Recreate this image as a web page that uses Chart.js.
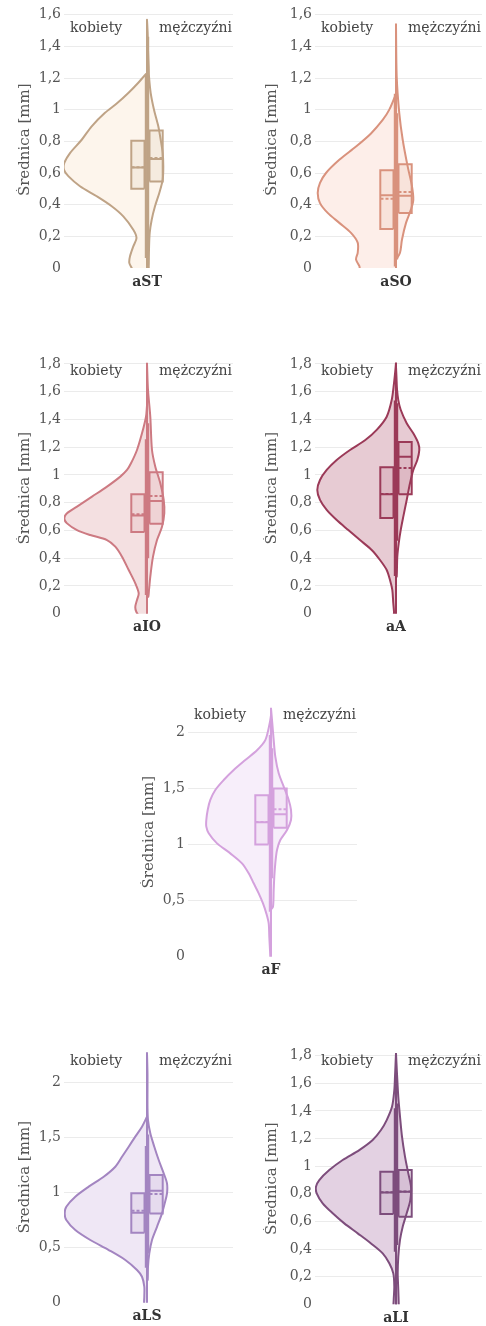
<!DOCTYPE html>
<html>
<head>
<meta charset="utf-8">
<script src="https://cdn.jsdelivr.net/npm/chart.js@4.4.1/dist/chart.umd.min.js"></script>
<style>
  html, body { margin: 0; padding: 0; background: #fff; }
  #page { position: relative; width: 486px; height: 1326px; overflow: hidden; }
  #page canvas { position: absolute; }
</style>
</head>
<body>
<div id="page"></div>
<script>
// categories and group names
const categories = ['aST', 'aSO', 'aIO', 'aA', 'aF', 'aLS', 'aLI'];
const groups = ['kobiety', 'mężczyźni'];
const axisTitle = 'Średnica [mm]';

// y axis range and tick step per category
const yMaxes = [1.62, 1.62, 1.81, 1.81, 2.22, 2.28, 1.82];
const ySteps = [0.2, 0.2, 0.2, 0.2, 0.5, 0.5, 0.2];

// density profiles: [diameter, half width]
const aST_k = [[-0.02, 0.14], [0, 0.153], [0.032, 0.177], [0.074, 0.17], [0.137, 0.137], [0.19, 0.105], [0.242, 0.137], [0.326, 0.237], [0.39, 0.353], [0.453, 0.503], [0.516, 0.67], [0.58, 0.787], [0.62, 0.83], [0.663, 0.827], [0.726, 0.77], [0.81, 0.653], [0.895, 0.553], [0.98, 0.42], [1.04, 0.3], [1.105, 0.187], [1.17, 0.087], [1.225, 0.01]];
const aST_m = [[-0.02, 0.017], [0, 0.017], [0.116, 0.02], [0.221, 0.027], [0.305, 0.047], [0.39, 0.08], [0.474, 0.123], [0.558, 0.157], [0.642, 0.163], [0.726, 0.157], [0.81, 0.137], [0.895, 0.113], [1.0, 0.07], [1.105, 0.037], [1.21, 0.02], [1.27, 0.017], [1.38, 0.01], [1.48, 0.007], [1.568, 0]];
const aSO_k = [[-0.02, 0.35], [0.013, 0.367], [0.054, 0.4], [0.096, 0.383], [0.16, 0.383], [0.222, 0.45], [0.285, 0.567], [0.348, 0.683], [0.41, 0.76], [0.474, 0.783], [0.537, 0.76], [0.6, 0.7], [0.683, 0.567], [0.767, 0.4], [0.85, 0.25], [0.935, 0.133], [1.0, 0.067], [1.1, 0]];
const aSO_m = [[0.05, 0], [0.096, 0.04], [0.18, 0.06], [0.285, 0.1], [0.37, 0.15], [0.43, 0.173], [0.516, 0.16], [0.64, 0.117], [0.81, 0.067], [0.977, 0.033], [1.21, 0.007], [1.54, 0]];
const aIO_k = [[-0.02, 0.07], [0.014, 0.107], [0.05, 0.117], [0.099, 0.1], [0.147, 0.083], [0.219, 0.117], [0.315, 0.183], [0.411, 0.25], [0.483, 0.317], [0.531, 0.4], [0.567, 0.567], [0.603, 0.7], [0.651, 0.8], [0.688, 0.827], [0.724, 0.8], [0.772, 0.7], [0.844, 0.55], [0.916, 0.4], [0.988, 0.267], [1.036, 0.2], [1.084, 0.16], [1.18, 0.1], [1.3, 0.05], [1.42, 0.01], [1.5, 0]];
const aIO_m = [[0.123, 0.013], [0.171, 0.02], [0.267, 0.033], [0.411, 0.06], [0.531, 0.1], [0.627, 0.15], [0.724, 0.173], [0.82, 0.167], [0.94, 0.133], [1.06, 0.083], [1.18, 0.05], [1.42, 0.033], [1.613, 0.01], [1.805, 0]];
const aA_k = [[-0.02, 0.02], [0.014, 0.02], [0.075, 0.027], [0.171, 0.037], [0.243, 0.06], [0.315, 0.093], [0.387, 0.16], [0.459, 0.243], [0.531, 0.36], [0.603, 0.477], [0.675, 0.593], [0.748, 0.693], [0.82, 0.76], [0.892, 0.787], [0.964, 0.76], [1.036, 0.693], [1.108, 0.593], [1.18, 0.46], [1.25, 0.31], [1.325, 0.193], [1.42, 0.093], [1.54, 0.043], [1.66, 0.02], [1.75, 0.007], [1.81, 0]];
const aA_m = [[0.267, 0.007], [0.411, 0.013], [0.507, 0.027], [0.603, 0.047], [0.7, 0.073], [0.82, 0.107], [0.94, 0.14], [1.036, 0.173], [1.108, 0.213], [1.18, 0.233], [1.228, 0.223], [1.3, 0.173], [1.373, 0.107], [1.47, 0.047], [1.54, 0.023], [1.62, 0.01], [1.7, 0.005], [1.78, 0]];
const aF_k = [[-0.02, 0.007], [0, 0.007], [0.059, 0.01], [0.178, 0.017], [0.297, 0.023], [0.386, 0.047], [0.475, 0.08], [0.565, 0.123], [0.654, 0.173], [0.743, 0.223], [0.832, 0.29], [0.921, 0.407], [1.01, 0.54], [1.1, 0.623], [1.159, 0.647], [1.218, 0.647], [1.308, 0.633], [1.397, 0.607], [1.486, 0.557], [1.575, 0.473], [1.664, 0.373], [1.753, 0.257], [1.84, 0.14], [1.93, 0.057], [2.08, 0.013], [2.15, 0]];
const aF_m = [[0.42, 0], [0.446, 0.02], [0.594, 0.027], [0.713, 0.033], [0.832, 0.043], [0.951, 0.06], [1.04, 0.093], [1.129, 0.16], [1.218, 0.2], [1.308, 0.2], [1.397, 0.177], [1.516, 0.127], [1.634, 0.077], [1.783, 0.043], [1.93, 0.027], [2.08, 0.013], [2.214, 0]];
const aLS_k = [[-0.02, 0.027], [0.055, 0.027], [0.145, 0.027], [0.236, 0.05], [0.297, 0.1], [0.388, 0.217], [0.479, 0.383], [0.57, 0.567], [0.661, 0.717], [0.752, 0.807], [0.812, 0.823], [0.873, 0.807], [0.964, 0.717], [1.055, 0.583], [1.145, 0.433], [1.236, 0.317], [1.327, 0.25], [1.418, 0.183], [1.51, 0.117], [1.6, 0.05], [1.69, 0]];
const aLS_m = [[0.206, 0.007], [0.327, 0.01], [0.448, 0.023], [0.57, 0.05], [0.69, 0.1], [0.812, 0.15], [0.903, 0.177], [0.994, 0.2], [1.085, 0.2], [1.176, 0.167], [1.297, 0.117], [1.418, 0.073], [1.54, 0.033], [1.66, 0.01], [1.78, 0.005], [1.933, 0.005], [2.085, 0.005], [2.27, 0]];
const aLI_k = [[-0.02, 0.023], [0.031, 0.023], [0.128, 0.017], [0.224, 0.027], [0.297, 0.067], [0.369, 0.133], [0.441, 0.25], [0.514, 0.383], [0.586, 0.517], [0.659, 0.633], [0.731, 0.733], [0.803, 0.793], [0.852, 0.8], [0.9, 0.767], [0.972, 0.667], [1.045, 0.533], [1.117, 0.367], [1.19, 0.233], [1.262, 0.15], [1.334, 0.093], [1.43, 0.04], [1.55, 0.017], [1.65, 0.01], [1.82, 0]];
const aLI_m = [[-0.02, 0.027], [0.007, 0.027], [0.104, 0.023], [0.224, 0.017], [0.345, 0.023], [0.466, 0.04], [0.562, 0.067], [0.659, 0.107], [0.755, 0.143], [0.852, 0.15], [0.948, 0.123], [1.07, 0.09], [1.215, 0.06], [1.36, 0.04], [1.5, 0.023], [1.67, 0.01], [1.817, 0]];

const densK = [aST_k, aSO_k, aIO_k, aA_k, aF_k, aLS_k, aLI_k];
const densM = [aST_m, aSO_m, aIO_m, aA_m, aF_m, aLS_m, aLI_m];

// box statistics, kobiety
const q1K   = [0.501, 0.247, 0.589, 0.690, 1.000, 0.636, 0.654];
const medK  = [0.634, 0.459, 0.707, 0.861, 1.198, 0.818, 0.810];
const meanK = [0.636, 0.438, 0.716, 0.863, 1.200, 0.836, 0.812];
const q3K   = [0.804, 0.618, 0.861, 1.055, 1.438, 0.994, 0.960];
const loK   = [0.063, 0.010, 0.135, 0.272, 0.400, 0.318, 0.381];
const hiK   = [1.220, 1.100, 1.257, 1.536, 1.976, 1.424, 1.419];
// box statistics, mężczyźni
const q1M   = [0.547, 0.348, 0.649, 0.861, 1.150, 0.812, 0.634];
const medM  = [0.688, 0.457, 0.813, 1.132, 1.269, 1.018, 0.815];
const meanM = [0.695, 0.480, 0.849, 1.050, 1.313, 0.988, 0.817];
const q3M   = [0.869, 0.656, 1.019, 1.238, 1.500, 1.160, 0.972];
const loM   = [0.020, 0.055, 0.399, 0.526, 0.700, 0.448, 0.429];
const hiM   = [1.460, 0.977, 1.373, 1.517, 1.857, 1.530, 1.455];

// colours
const lineColors = ['#bfa386', '#d9927d', '#cd7a82', '#9b3a58', '#d4a1dd', '#a385c1', '#7d4d7c'];
const fillColors = ['#fdf5ec', '#fdeee9', '#f4e0e1', '#e7cbd3', '#f7eefa', '#efe7f5', '#e3d1e2'];

const FONT = '"DejaVu Serif", serif';

// where each small chart sits on the page
const frames = [
  { left: 16,  top: 0,    width: 217, height: 300, padTop: 11.5, padBottom: 32,   axisW: 48, xMin: -0.83, xMax: 0.86, noteY: 31.7 },
  { left: 263, top: 0,    width: 219, height: 300, padTop: 11.5, padBottom: 32,   axisW: 52, xMin: -0.81, xMax: 0.86, noteY: 32 },
  { left: 16,  top: 350,  width: 217, height: 296, padTop: 12.6, padBottom: 32.3, axisW: 48, xMin: -0.83, xMax: 0.86, noteY: 25 },
  { left: 263, top: 350,  width: 219, height: 296, padTop: 12.6, padBottom: 32.3, axisW: 52, xMin: -0.81, xMax: 0.86, noteY: 25 },
  { left: 140, top: 695,  width: 217, height: 294, padTop: 12.6, padBottom: 32.3, axisW: 48, xMin: -0.83, xMax: 0.86, noteY: 24.3 },
  { left: 16,  top: 1040, width: 217, height: 286, padTop: 11.9, padBottom: 23.3, axisW: 48, xMin: -0.83, xMax: 0.86, noteY: 25 },
  { left: 263, top: 1040, width: 219, height: 286, padTop: 13,   padBottom: 21.7, axisW: 52, xMin: -0.81, xMax: 0.86, noteY: 25 }
];

// box geometry (x units, away from the centre line)
const BOX_IN = 0.025, BOX_OUT = 0.157, WHISK = 0.012;

function hexA(hex, a) {
  const n = parseInt(hex.slice(1), 16);
  return `rgba(${n >> 16}, ${(n >> 8) & 255}, ${n & 255}, ${a})`;
}

// half violin as a closed outline against x = 0
function violin(profile, side) {
  const pts = profile.map(([y, w]) => ({ x: side * w, y: y }));
  const y0 = profile[0][0], y1 = profile[profile.length - 1][0];
  return [{ x: 0, y: y0 }, ...pts, { x: 0, y: y1 }, { x: 0, y: y0 }];
}

function boxSets(side, q1, med, mean, q3, lo, hi, color) {
  const a = side * BOX_IN, b = side * BOX_OUT, w = side * WHISK;
  const base = { showLine: true, pointRadius: 0, borderColor: color, borderWidth: 2, tension: 0 };
  return [
    { ...base, order: 1, fill: 'shape', backgroundColor: hexA(color, 0.12),
      data: [{ x: a, y: q1 }, { x: b, y: q1 }, { x: b, y: q3 }, { x: a, y: q3 }, { x: a, y: q1 }] },
    { ...base, order: 0, data: [{ x: w, y: lo }, { x: w, y: hi }] },
    { ...base, order: 0, data: [{ x: a, y: med }, { x: b, y: med }] },
    { ...base, order: 0, borderDash: [3, 2], data: [{ x: a, y: mean }, { x: b, y: mean }] }
  ];
}

const notesPlugin = {
  id: 'notes',
  afterDraw(chart, args, opts) {
    const { ctx, chartArea } = chart;
    ctx.save();
    ctx.fillStyle = '#444';
    ctx.font = '14px ' + FONT;
    ctx.textBaseline = 'alphabetic';
    ctx.textAlign = 'left';
    ctx.fillText(groups[0], chartArea.left + 6, opts.noteY);
    ctx.textAlign = 'right';
    ctx.fillText(groups[1], chartArea.right - 1, opts.noteY);
    ctx.font = 'bold 14px ' + FONT;
    ctx.fillStyle = '#333';
    ctx.textAlign = 'center';
    ctx.textBaseline = 'middle';
    ctx.fillText(opts.label, chart.scales.x.getPixelForValue(0), chartArea.bottom + 14);
    ctx.restore();
  }
};

const page = document.getElementById('page');

categories.forEach((cat, i) => {
  const f = frames[i];
  const canvas = document.createElement('canvas');
  canvas.width = f.width;
  canvas.height = f.height;
  canvas.style.left = f.left + 'px';
  canvas.style.top = f.top + 'px';
  canvas.style.width = f.width + 'px';
  canvas.style.height = f.height + 'px';
  page.appendChild(canvas);

  const line = lineColors[i];
  const violinBase = { showLine: true, pointRadius: 0, fill: 'shape', borderColor: line,
    backgroundColor: fillColors[i], borderWidth: 2, tension: 0.3, borderJoinStyle: 'round', order: 2 };

  const datasets = [
    { ...violinBase, label: groups[0], data: violin(densK[i], -1) },
    { ...violinBase, label: groups[1], data: violin(densM[i], 1) },
    ...boxSets(-1, q1K[i], medK[i], meanK[i], q3K[i], loK[i], hiK[i], line),
    ...boxSets(1, q1M[i], medM[i], meanM[i], q3M[i], loM[i], hiM[i], line)
  ];

  new Chart(canvas, {
    type: 'scatter',
    data: { datasets },
    plugins: [notesPlugin],
    options: {
      responsive: false,
      animation: false,
      devicePixelRatio: 1,
      layout: { padding: { top: f.padTop, bottom: f.padBottom, left: 0, right: 0 } },
      elements: { line: { capBezierPoints: false } },
      plugins: {
        legend: { display: false },
        tooltip: { enabled: false },
        notes: { noteY: f.noteY, label: cat }
      },
      scales: {
        x: { type: 'linear', min: f.xMin, max: f.xMax, display: false },
        y: {
          type: 'linear',
          min: 0,
          max: yMaxes[i],
          afterFit: (s) => { s.width = f.axisW; },
          border: { display: false },
          grid: {
            drawTicks: false,
            lineWidth: 1,
            color: (c) => (c.tick && c.tick.value === 0 ? 'rgba(0,0,0,0)' : '#ebebeb')
          },
          ticks: {
            stepSize: ySteps[i],
            includeBounds: false,
            padding: 3,
            color: '#555',
            font: { family: FONT, size: 14 },
            callback: (v) => String(Math.round(v * 100) / 100).replace('.', ',')
          },
          title: {
            display: true,
            text: axisTitle,
            color: '#555',
            padding: 0,
            font: { family: FONT, size: 15 }
          }
        }
      }
    }
  });
});
</script>
</body>
</html>
